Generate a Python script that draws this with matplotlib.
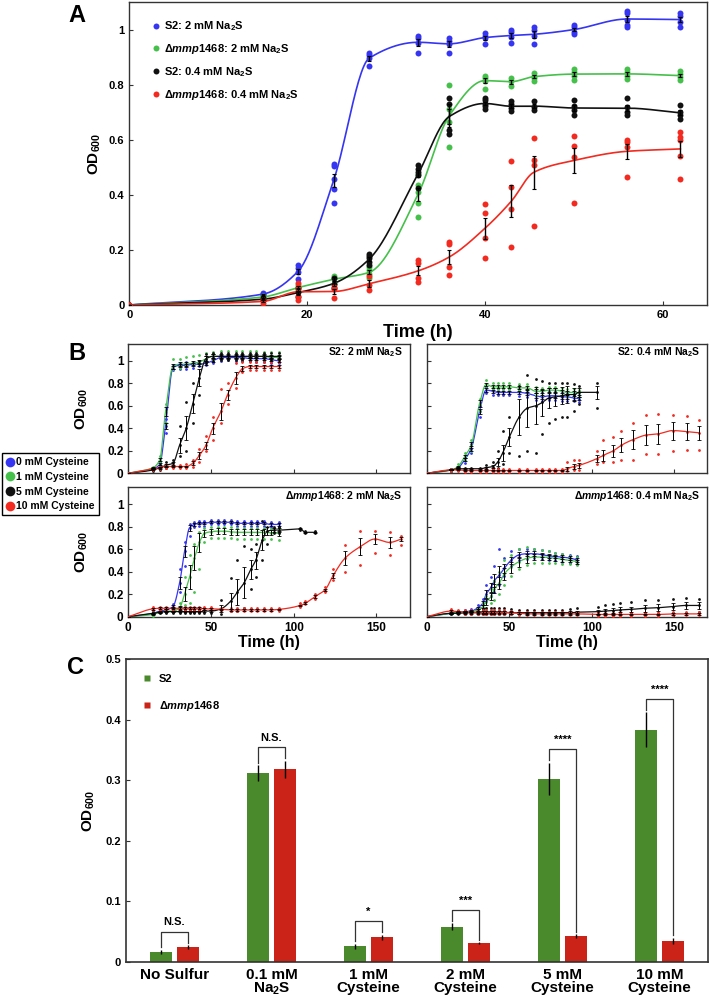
import numpy as np
import matplotlib
matplotlib.use('Agg')
import matplotlib.pyplot as plt
from matplotlib.lines import Line2D
from matplotlib.ticker import FuncFormatter
from matplotlib import font_manager

names = {f.name for f in font_manager.fontManager.ttflist}
FONT = 'DejaVu Sans'
for cand in ('Liberation Sans Narrow', 'Liberation Sans', 'Arial'):
    if cand in names:
        FONT = cand
        break
plt.rcParams['font.family'] = [FONT, 'DejaVu Sans']
plt.rcParams['font.weight'] = 'bold'
plt.rcParams['mathtext.fontset'] = 'custom'
plt.rcParams['mathtext.rm'] = FONT + ':bold'
plt.rcParams['mathtext.bf'] = FONT + ':bold'
plt.rcParams['mathtext.it'] = FONT + ':italic:bold'

BLUE = '#3535f2'
GREEN = '#45c04a'
BLACK = '#111111'
RED = '#f22a1f'
C_GREEN = '#4a8a2c'
C_RED = '#cb2317'
SPINE = '#333333'

# ---------------- panel A: replicate OD600 readings ----------------
a_t = [0, 15, 19, 23, 27, 32.5, 36, 40, 43, 45.5, 50, 56, 62]
a_s2_2mm = [[0, 0, 0], [0.042, 0.036, 0.040], [0.145, 0.133, 0.12, 0.093],
            [0.513, 0.505, 0.456, 0.42, 0.372], [0.915, 0.906, 0.897, 0.867],
            [0.978, 0.97, 0.952, 0.915], [0.97, 0.96, 0.948, 0.915],
            [0.987, 0.978, 0.97, 0.948], [1.0, 0.99, 0.972, 0.952],
            [1.008, 1.0, 0.975, 0.948], [1.017, 1.008, 0.99, 0.984],
            [1.069, 1.06, 1.036, 1.018, 1.008], [1.06, 1.05, 1.027, 1.008]]
a_mut_2mm = [[0, 0, 0], [0.024, 0.033, 0.03], [0.072, 0.064, 0.054],
             [0.105, 0.097, 0.078], [0.139, 0.127, 0.112, 0.097],
             [0.477, 0.435, 0.41, 0.37, 0.32], [0.80, 0.712, 0.664, 0.574],
             [0.833, 0.825, 0.815, 0.785], [0.825, 0.813, 0.795],
             [0.842, 0.833, 0.825, 0.815], [0.857, 0.845, 0.833, 0.818],
             [0.857, 0.845, 0.833, 0.821], [0.849, 0.837, 0.827, 0.818]]
a_s2_04mm = [[0, 0, 0], [0.024, 0.018], [0.06, 0.046, 0.03], [0.097, 0.078, 0.06],
             [0.185, 0.178, 0.169, 0.157, 0.145], [0.507, 0.495, 0.483, 0.471, 0.426],
             [0.751, 0.73, 0.634, 0.622], [0.752, 0.743, 0.73, 0.721, 0.712],
             [0.739, 0.728, 0.716, 0.703], [0.74, 0.719, 0.707],
             [0.745, 0.721, 0.707, 0.688], [0.752, 0.719, 0.7, 0.688],
             [0.727, 0.7, 0.688, 0.676]]
a_mut_04mm = [[0, 0, 0], [0.018, 0.008], [0.081, 0.06, 0.033, 0.018],
              [0.066, 0.057, 0.024], [0.106, 0.072, 0.054],
              [0.163, 0.151, 0.097, 0.085], [0.229, 0.22, 0.139, 0.109],
              [0.366, 0.335, 0.242, 0.169], [0.522, 0.429, 0.35, 0.209],
              [0.608, 0.525, 0.507, 0.286], [0.614, 0.577, 0.537, 0.37],
              [0.60, 0.592, 0.575, 0.465], [0.628, 0.61, 0.598, 0.54, 0.457]]

# ---------------- panel B: mean, lowest and highest replicate ----------------
# S2: 2 mM Na2S
b1_t = [0, 15, 19, 22.5, 27, 31, 35, 39, 43, 47, 51, 56, 60, 65, 69, 73.5, 77.5, 82, 86.5, 91]
b1_blue = [0, 0.04, 0.08, 0.42, 0.94, 0.96, 0.96, 0.97, 0.97, 0.98, 1.0, 1.03, 1.03, 1.03, 1.03, 1.02, 1.02, 1.02, 1.01, 1.0]
b1_blue_lo = [0, 0.03, 0.06, 0.36, 0.92, 0.93, 0.93, 0.94, 0.95, 0.96, 0.98, 1.0, 1.01, 1.0, 1.0, 1.0, 0.99, 0.99, 0.98, 0.98]
b1_blue_hi = [0, 0.05, 0.10, 0.48, 0.96, 0.98, 0.99, 0.99, 1.0, 1.01, 1.03, 1.05, 1.05, 1.05, 1.05, 1.04, 1.04, 1.04, 1.03, 1.03]
b1_green = [0, 0.05, 0.12, 0.55, 0.95, 0.97, 0.97, 0.98, 0.99, 1.02, 1.04, 1.04, 1.04, 1.04, 1.04, 1.04, 1.04, 1.04, 1.03, 1.03]
b1_green_lo = [0, 0.04, 0.09, 0.45, 0.93, 0.94, 0.95, 0.96, 0.97, 0.99, 1.01, 1.02, 1.02, 1.02, 1.02, 1.02, 1.02, 1.01, 1.01, 1.01]
b1_green_hi = [0, 0.06, 0.15, 0.62, 1.02, 1.02, 1.03, 1.04, 1.05, 1.07, 1.08, 1.09, 1.09, 1.09, 1.09, 1.09, 1.09, 1.08, 1.08, 1.08]
b1_black = [0, 0.03, 0.05, 0.07, 0.09, 0.25, 0.40, 0.62, 0.85, 1.02, 1.04, 1.04, 1.04, 1.04, 1.04, 1.04, 1.04, 1.04, 1.04, 1.04]
b1_black_lo = [0, 0.02, 0.03, 0.05, 0.07, 0.15, 0.20, 0.45, 0.70, 0.98, 1.0, 1.01, 1.01, 1.01, 1.01, 1.01, 1.01, 1.01, 1.01, 1.01]
b1_black_hi = [0, 0.04, 0.07, 0.10, 0.12, 0.42, 0.63, 0.80, 1.0, 1.06, 1.07, 1.07, 1.07, 1.07, 1.07, 1.07, 1.07, 1.07, 1.07, 1.07]
b1_red = [0, 0.04, 0.05, 0.06, 0.06, 0.06, 0.06, 0.09, 0.16, 0.25, 0.40, 0.55, 0.70, 0.85, 0.93, 0.95, 0.95, 0.95, 0.95, 0.95]
b1_red_lo = [0, 0.03, 0.04, 0.05, 0.05, 0.05, 0.05, 0.06, 0.10, 0.20, 0.30, 0.45, 0.62, 0.76, 0.90, 0.92, 0.92, 0.92, 0.92, 0.92]
b1_red_hi = [0, 0.05, 0.06, 0.07, 0.07, 0.07, 0.08, 0.12, 0.22, 0.33, 0.50, 0.75, 0.80, 0.98, 0.99, 0.99, 0.99, 0.99, 0.99, 0.99]

# S2: 0.4 mM Na2S
b2_t = [0, 15, 19, 23, 27, 32, 36, 40, 43, 46, 50, 56, 61, 66, 70, 74, 78, 82, 85, 89, 92]
b2_blue = [0, 0.03, 0.05, 0.12, 0.22, 0.55, 0.74, 0.73, 0.72, 0.72, 0.72, 0.72, 0.71, 0.69, 0.68, 0.69, 0.69, 0.68, 0.68, 0.67, 0.665]
b2_blue_lo = [0, 0.02, 0.04, 0.09, 0.18, 0.50, 0.71, 0.70, 0.70, 0.70, 0.70, 0.69, 0.68, 0.65, 0.64, 0.65, 0.65, 0.64, 0.64, 0.64, 0.63]
b2_blue_hi = [0, 0.04, 0.06, 0.15, 0.26, 0.60, 0.77, 0.76, 0.75, 0.75, 0.75, 0.75, 0.74, 0.73, 0.72, 0.73, 0.73, 0.72, 0.71, 0.71, 0.70]
b2_green = [0, 0.03, 0.06, 0.15, 0.25, 0.62, 0.79, 0.77, 0.77, 0.77, 0.77, 0.76, 0.76, 0.73, 0.73, 0.74, 0.74, 0.73, 0.72, 0.72, 0.71]
b2_green_lo = [0, 0.02, 0.05, 0.12, 0.20, 0.55, 0.76, 0.75, 0.75, 0.75, 0.75, 0.74, 0.73, 0.70, 0.70, 0.71, 0.71, 0.70, 0.69, 0.69, 0.68]
b2_green_hi = [0, 0.04, 0.08, 0.18, 0.30, 0.66, 0.83, 0.80, 0.80, 0.80, 0.80, 0.79, 0.79, 0.77, 0.76, 0.77, 0.77, 0.76, 0.75, 0.75, 0.74]
b2_black_t = [0, 15, 19, 23, 27, 32, 36, 40, 43, 46, 50, 56, 61, 66, 70, 74, 78, 82, 85, 89, 92, 103]
b2_black = [0, 0.03, 0.04, 0.04, 0.04, 0.04, 0.05, 0.06, 0.10, 0.18, 0.32, 0.50, 0.58, 0.60, 0.63, 0.67, 0.68, 0.69, 0.70, 0.70, 0.72, 0.72]
b2_black_lo = [0, 0.02, 0.03, 0.03, 0.03, 0.03, 0.03, 0.04, 0.05, 0.08, 0.18, 0.15, 0.20, 0.18, 0.35, 0.45, 0.48, 0.50, 0.50, 0.55, 0.62, 0.58]
b2_black_hi = [0, 0.04, 0.05, 0.05, 0.05, 0.05, 0.07, 0.10, 0.20, 0.38, 0.50, 0.78, 0.87, 0.84, 0.82, 0.80, 0.80, 0.80, 0.80, 0.79, 0.78, 0.80]
b2_red_t = [0, 15, 19, 23, 27, 32, 36, 40, 43, 46, 50, 56, 61, 66, 70, 74, 78, 82, 85, 89, 92,
            103, 107, 113, 118, 125, 133, 140, 149, 158, 165]
b2_red = [0, 0.03, 0.03, 0.025, 0.025, 0.025, 0.025, 0.025, 0.025, 0.025, 0.025, 0.025, 0.025, 0.025, 0.025,
          0.025, 0.025, 0.025, 0.04, 0.06, 0.07, 0.13, 0.16, 0.20, 0.25, 0.30, 0.34, 0.35, 0.38, 0.37, 0.36]
b2_red_lo = [0, 0.02, 0.02, 0.015, 0.015, 0.015, 0.015, 0.015, 0.015, 0.015, 0.015, 0.015, 0.015, 0.015, 0.015,
             0.015, 0.015, 0.015, 0.02, 0.03, 0.03, 0.08, 0.10, 0.10, 0.12, 0.12, 0.17, 0.17, 0.20, 0.21, 0.21]
b2_red_hi = [0, 0.04, 0.04, 0.04, 0.04, 0.04, 0.04, 0.04, 0.04, 0.04, 0.04, 0.04, 0.04, 0.04, 0.04,
             0.04, 0.04, 0.04, 0.10, 0.12, 0.12, 0.20, 0.30, 0.32, 0.38, 0.45, 0.52, 0.53, 0.52, 0.51, 0.47]

# dmmp1468: 2 mM Na2S
b3_t = [0, 15, 19, 23, 27, 31, 34, 37, 40, 43, 46, 50, 54, 58, 62, 66, 70, 74, 78, 82, 86, 91]
b3_blue = [0, 0.03, 0.05, 0.06, 0.09, 0.30, 0.58, 0.79, 0.82, 0.83, 0.83, 0.84, 0.84, 0.84, 0.84, 0.83, 0.83, 0.83, 0.83, 0.83, 0.82, 0.82]
b3_blue_lo = [0, 0.02, 0.04, 0.05, 0.07, 0.22, 0.45, 0.72, 0.80, 0.81, 0.81, 0.82, 0.82, 0.82, 0.82, 0.81, 0.81, 0.81, 0.81, 0.81, 0.80, 0.80]
b3_blue_hi = [0, 0.04, 0.06, 0.07, 0.11, 0.42, 0.66, 0.82, 0.84, 0.85, 0.85, 0.86, 0.86, 0.86, 0.86, 0.85, 0.85, 0.85, 0.85, 0.85, 0.84, 0.84]
b3_green = [0, 0.02, 0.04, 0.05, 0.05, 0.08, 0.20, 0.35, 0.52, 0.66, 0.74, 0.755, 0.76, 0.76, 0.755, 0.75, 0.75, 0.75, 0.75, 0.75, 0.745, 0.74]
b3_green_lo = [0, 0.01, 0.03, 0.04, 0.04, 0.05, 0.10, 0.12, 0.22, 0.42, 0.66, 0.70, 0.70, 0.70, 0.70, 0.69, 0.69, 0.69, 0.69, 0.69, 0.69, 0.68]
b3_green_hi = [0, 0.03, 0.05, 0.06, 0.06, 0.12, 0.35, 0.55, 0.65, 0.75, 0.79, 0.80, 0.80, 0.80, 0.80, 0.79, 0.79, 0.79, 0.79, 0.79, 0.78, 0.78]
b3_black_t = [0, 15, 19, 23, 27, 31, 34, 37, 40, 43, 46, 50, 56, 62, 66, 70, 74, 77, 81, 84, 88, 91, 104, 107, 113]
b3_black = [0, 0.03, 0.04, 0.045, 0.045, 0.045, 0.045, 0.045, 0.045, 0.045, 0.05, 0.05, 0.07, 0.14, 0.22,
            0.30, 0.42, 0.50, 0.68, 0.76, 0.77, 0.77, 0.78, 0.75, 0.75]
b3_black_lo = [0, 0.02, 0.03, 0.03, 0.03, 0.03, 0.03, 0.03, 0.03, 0.03, 0.03, 0.03, 0.02, 0.05, 0.05,
               0.08, 0.25, 0.35, 0.50, 0.65, 0.74, 0.74, 0.77, 0.74, 0.74]
b3_black_hi = [0, 0.04, 0.05, 0.06, 0.06, 0.06, 0.06, 0.06, 0.06, 0.06, 0.07, 0.07, 0.15, 0.34, 0.50,
               0.63, 0.60, 0.65, 0.85, 0.80, 0.80, 0.80, 0.79, 0.76, 0.76]
b3_red_t = [0, 15, 19, 23, 27, 31, 34, 37, 40, 43, 46, 50, 56, 62, 66, 70, 74, 78, 82, 86, 91,
            104, 107, 113, 119, 124, 131, 140, 149, 158, 165]
b3_red = [0, 0.07, 0.075, 0.075, 0.075, 0.075, 0.075, 0.075, 0.075, 0.075, 0.07, 0.07, 0.065, 0.06, 0.06,
          0.06, 0.06, 0.06, 0.06, 0.06, 0.065, 0.10, 0.12, 0.18, 0.24, 0.37, 0.52, 0.62, 0.69, 0.66, 0.69]
b3_red_lo = [0, 0.06, 0.06, 0.06, 0.06, 0.06, 0.06, 0.06, 0.06, 0.06, 0.06, 0.06, 0.05, 0.05, 0.05,
             0.05, 0.05, 0.05, 0.05, 0.05, 0.05, 0.09, 0.11, 0.16, 0.22, 0.33, 0.40, 0.46, 0.57, 0.55, 0.64]
b3_red_hi = [0, 0.085, 0.09, 0.09, 0.09, 0.09, 0.09, 0.09, 0.09, 0.09, 0.085, 0.085, 0.08, 0.075, 0.075,
             0.075, 0.075, 0.075, 0.075, 0.075, 0.08, 0.12, 0.14, 0.20, 0.26, 0.42, 0.64, 0.76, 0.76, 0.75, 0.72]

# dmmp1468: 0.4 mM Na2S
b4_t = [0, 15, 19, 23, 27, 31, 34, 36, 39, 41, 44, 47, 51, 56, 61, 65, 70, 74, 78, 82, 87, 91]
b4_blue = [0, 0.03, 0.04, 0.045, 0.05, 0.08, 0.12, 0.20, 0.26, 0.32, 0.37, 0.43, 0.50, 0.55, 0.56, 0.56, 0.55, 0.54, 0.535, 0.53, 0.52, 0.505]
b4_blue_lo = [0, 0.02, 0.03, 0.035, 0.04, 0.06, 0.08, 0.14, 0.18, 0.22, 0.28, 0.36, 0.45, 0.50, 0.51, 0.52, 0.51, 0.50, 0.50, 0.49, 0.48, 0.47]
b4_blue_hi = [0, 0.04, 0.05, 0.06, 0.065, 0.10, 0.16, 0.28, 0.35, 0.45, 0.60, 0.52, 0.58, 0.60, 0.60, 0.60, 0.59, 0.58, 0.57, 0.56, 0.55, 0.54]
b4_green = [0, 0.03, 0.04, 0.04, 0.045, 0.06, 0.09, 0.13, 0.18, 0.25, 0.30, 0.38, 0.44, 0.49, 0.52, 0.53, 0.53, 0.525, 0.52, 0.51, 0.50, 0.49]
b4_green_lo = [0, 0.02, 0.03, 0.03, 0.035, 0.045, 0.06, 0.08, 0.12, 0.15, 0.20, 0.28, 0.36, 0.42, 0.46, 0.48, 0.48, 0.48, 0.48, 0.47, 0.47, 0.46]
b4_green_hi = [0, 0.04, 0.05, 0.05, 0.055, 0.08, 0.12, 0.18, 0.25, 0.32, 0.40, 0.50, 0.55, 0.60, 0.62, 0.60, 0.59, 0.58, 0.57, 0.56, 0.54, 0.53]
b4_late_t = [0, 15, 19, 23, 27, 31, 34, 36, 39, 41, 44, 47, 51, 56, 61, 65, 70, 74, 78, 82, 87, 91,
             104, 108, 113, 117, 124, 132, 140, 149, 157, 165]
b4_black = [0, 0.03, 0.03, 0.035, 0.035, 0.035, 0.035, 0.035, 0.035, 0.035, 0.035, 0.035, 0.035, 0.035, 0.035, 0.035,
            0.035, 0.035, 0.035, 0.035, 0.035, 0.04, 0.045, 0.05, 0.055, 0.06, 0.065, 0.075, 0.08, 0.09, 0.10, 0.10]
b4_black_lo = [0, 0.02, 0.02, 0.02, 0.02, 0.02, 0.02, 0.02, 0.02, 0.02, 0.02, 0.02, 0.02, 0.02, 0.02, 0.02,
               0.02, 0.02, 0.02, 0.02, 0.02, 0.02, 0.02, 0.02, 0.025, 0.03, 0.03, 0.03, 0.03, 0.03, 0.03, 0.04]
b4_black_hi = [0, 0.04, 0.05, 0.05, 0.05, 0.06, 0.07, 0.08, 0.08, 0.08, 0.08, 0.08, 0.07, 0.06, 0.06, 0.06,
               0.06, 0.06, 0.06, 0.06, 0.07, 0.08, 0.09, 0.10, 0.11, 0.12, 0.13, 0.15, 0.15, 0.16, 0.17, 0.16]
b4_red = [0, 0.05, 0.045, 0.04, 0.04, 0.04, 0.04, 0.04, 0.04, 0.04, 0.04, 0.04, 0.035, 0.03, 0.025, 0.025,
          0.025, 0.025, 0.025, 0.025, 0.025, 0.025, 0.02, 0.02, 0.02, 0.02, 0.02, 0.02, 0.02, 0.025, 0.025, 0.025]
b4_red_lo = [0, 0.03, 0.03, 0.025, 0.025, 0.025, 0.025, 0.025, 0.025, 0.025, 0.025, 0.025, 0.02, 0.015, 0.015, 0.015,
             0.015, 0.015, 0.015, 0.015, 0.015, 0.015, 0.01, 0.01, 0.01, 0.01, 0.01, 0.01, 0.01, 0.015, 0.015, 0.015]
b4_red_hi = [0, 0.07, 0.06, 0.06, 0.06, 0.06, 0.06, 0.06, 0.06, 0.06, 0.06, 0.06, 0.05, 0.045, 0.04, 0.04,
             0.04, 0.04, 0.04, 0.04, 0.04, 0.04, 0.035, 0.035, 0.035, 0.035, 0.035, 0.035, 0.035, 0.04, 0.04, 0.04]

# ---------------- panel C ----------------
c_groups = ['No Sulfur', '0.1 mM\nNa$_2$S', '1 mM\nCysteine', '2 mM\nCysteine', '5 mM\nCysteine', '10 mM\nCysteine']
c_s2 = [0.0165, 0.312, 0.026, 0.058, 0.302, 0.383]
c_s2_err = [0.004, 0.013, 0.004, 0.006, 0.027, 0.029]
c_mut = [0.025, 0.318, 0.041, 0.031, 0.043, 0.035]
c_mut_err = [0.003, 0.014, 0.004, 0.002, 0.003, 0.005]
c_sig = ['N.S.', 'N.S.', '*', '***', '****', '****']


def smooth(x, y, n=400):
    # monotone cubic (PCHIP) curve through the points, for drawing the fitted line
    x = np.asarray(x, float)
    y = np.asarray(y, float)
    h = np.diff(x)
    d = np.diff(y) / h
    m = np.zeros_like(y)
    m[0], m[-1] = d[0], d[-1]
    for k in range(1, len(x) - 1):
        if d[k - 1] * d[k] > 0:
            w1 = 2 * h[k] + h[k - 1]
            w2 = h[k] + 2 * h[k - 1]
            m[k] = (w1 + w2) / (w1 / d[k - 1] + w2 / d[k])
    xs = np.linspace(x[0], x[-1], n)
    i = np.clip(np.searchsorted(x, xs) - 1, 0, len(h) - 1)
    t = (xs - x[i]) / h[i]
    ys = ((2 * t**3 - 3 * t**2 + 1) * y[i] + (t**3 - 2 * t**2 + t) * h[i] * m[i]
          + (-2 * t**3 + 3 * t**2) * y[i + 1] + (t**3 - t**2) * h[i] * m[i + 1])
    return xs, ys


def style_axes(ax, lw=1.0):
    for s in ax.spines.values():
        s.set_color(SPINE)
        s.set_linewidth(lw)
    ax.tick_params(direction='in', length=3, width=0.8, color=SPINE)
    ax.yaxis.set_major_formatter(FuncFormatter(lambda v, p: f'{v:g}'))


fig = plt.figure(figsize=(7.1, 9.99), dpi=100)
W, H = 710.0, 999.0


def box(left, top, right, bottom):
    return [left / W, 1 - bottom / H, (right - left) / W, (bottom - top) / H]


# ===== A =====
axA = fig.add_axes(box(129.3, 2, 707, 305))
seriesA = [(a_s2_2mm, BLUE, 'S2: 2 mM Na$_2$S'),
           (a_mut_2mm, GREEN, r'Δ$\mathit{mmp1468}$: 2 mM Na$_2$S'),
           (a_s2_04mm, BLACK, 'S2: 0.4 mM Na$_2$S'),
           (a_mut_04mm, RED, r'Δ$\mathit{mmp1468}$: 0.4 mM Na$_2$S')]
for reps, col, lab in seriesA:
    means = np.array([np.mean(r) for r in reps])
    sem = np.array([np.std(r) / np.sqrt(len(r)) for r in reps])
    xs, ys = smooth(a_t, means)
    axA.plot(xs, ys, color=col, lw=1.2, zorder=2)
    px = [t for t, r in zip(a_t, reps) for _ in r]
    py = [v for r in reps for v in r]
    axA.plot(px, py, 'o', color=col, ms=4.3, mec='none', zorder=3)
    axA.errorbar(a_t, means, yerr=sem, fmt='none', ecolor='black', elinewidth=1.0,
                 capsize=1.5, capthick=0.8, zorder=4)
axA.set_xlim(0, 65)
axA.set_ylim(0, 1.1)
axA.set_xticks([0, 20, 40, 60])
axA.set_yticks([0, 0.2, 0.4, 0.6, 0.8, 1])
style_axes(axA)
axA.tick_params(labelsize=8)
axA.set_xlabel('Time (h)', fontsize=13, fontweight='bold', labelpad=3)
axA.set_ylabel('OD$_{600}$', fontsize=11, fontweight='bold')
axA.yaxis.set_label_coords(-0.045, 0.5)
handlesA = [Line2D([], [], marker='o', ls='none', color=c, ms=4.3, mec='none') for _, c, _ in seriesA]
axA.legend(handlesA, [s[2] for s in seriesA], loc='upper left', bbox_to_anchor=(0.04, 0.942),
           frameon=False, fontsize=8, labelspacing=0.8, handlelength=0.6, handletextpad=0.4,
           borderaxespad=0, borderpad=0)

# ===== B =====
B_boxes = [box(128.3, 344, 409.5, 473.3), box(426.7, 344, 707.3, 473.3),
           box(128.3, 487.3, 409.5, 616.7), box(426.7, 487.3, 707.3, 616.7)]
B_titles = ['S2: 2 mM Na$_2$S', 'S2: 0.4 mM Na$_2$S',
            r'Δ$\mathit{mmp1468}$: 2 mM Na$_2$S', r'Δ$\mathit{mmp1468}$: 0.4 mM Na$_2$S']
B_series = [
    [(b1_t, b1_blue, b1_blue_lo, b1_blue_hi, BLUE), (b1_t, b1_green, b1_green_lo, b1_green_hi, GREEN),
     (b1_t, b1_black, b1_black_lo, b1_black_hi, BLACK), (b1_t, b1_red, b1_red_lo, b1_red_hi, RED)],
    [(b2_t, b2_blue, b2_blue_lo, b2_blue_hi, BLUE), (b2_t, b2_green, b2_green_lo, b2_green_hi, GREEN),
     (b2_black_t, b2_black, b2_black_lo, b2_black_hi, BLACK), (b2_red_t, b2_red, b2_red_lo, b2_red_hi, RED)],
    [(b3_t, b3_blue, b3_blue_lo, b3_blue_hi, BLUE), (b3_t, b3_green, b3_green_lo, b3_green_hi, GREEN),
     (b3_black_t, b3_black, b3_black_lo, b3_black_hi, BLACK), (b3_red_t, b3_red, b3_red_lo, b3_red_hi, RED)],
    [(b4_t, b4_blue, b4_blue_lo, b4_blue_hi, BLUE), (b4_t, b4_green, b4_green_lo, b4_green_hi, GREEN),
     (b4_late_t, b4_black, b4_black_lo, b4_black_hi, BLACK), (b4_late_t, b4_red, b4_red_lo, b4_red_hi, RED)],
]
for k in range(4):
    ax = fig.add_axes(B_boxes[k])
    for t, m, lo, hi, col in B_series[k]:
        t, m, lo, hi = map(np.asarray, (t, m, lo, hi))
        xs, ys = smooth(t, m)
        ax.plot(xs, ys, color=col, lw=0.9, zorder=2)
        for arr in (lo, m, hi):
            ax.plot(t, arr, 'o', color=col, ms=2.0, mec='none', zorder=3)
        ax.errorbar(t, m, yerr=(hi - lo) / 4, fmt='none', ecolor='black', elinewidth=0.7,
                    capsize=1.2, capthick=0.6, zorder=4)
    ax.set_xlim(0, 170)
    ax.set_ylim(0, 1.15)
    ax.set_xticks([0, 50, 100, 150])
    ax.set_yticks([0, 0.2, 0.4, 0.6, 0.8, 1])
    style_axes(ax)
    ax.tick_params(labelsize=8.5)
    ax.text(0.975, 0.935, B_titles[k], transform=ax.transAxes, ha='right', va='center',
            fontsize=7.5, fontweight='bold')
    if k < 2:
        ax.set_xticklabels([])
    else:
        ax.set_xlabel('Time (h)', fontsize=11.5, fontweight='bold', labelpad=1)
    if k % 2 == 1:
        ax.set_yticklabels([])
    else:
        ax.set_ylabel('OD$_{600}$', fontsize=11, fontweight='bold')
        ax.yaxis.set_label_coords(-0.135, 0.5)

handlesB = [Line2D([], [], marker='o', ls='none', color=c, ms=7, mec='none')
            for c in (BLUE, GREEN, BLACK, RED)]
legB = fig.legend(handlesB, ['0 mM Cysteine', '1 mM Cysteine', '5 mM Cysteine', '10 mM Cysteine'],
                  loc='upper left', bbox_to_anchor=(2 / W, 1 - 453 / H), fontsize=7.5,
                  labelspacing=0.45, handlelength=0.7, handletextpad=0.25, borderpad=0.4,
                  borderaxespad=0, fancybox=False, edgecolor='black', framealpha=1)
legB.get_frame().set_linewidth(1.0)

# ===== C =====
axC = fig.add_axes(box(126, 659, 708, 962))
x = np.arange(len(c_groups))
bw, off = 0.23, 0.14
axC.bar(x - off, c_s2, bw, color=C_GREEN, yerr=c_s2_err, zorder=2,
        error_kw=dict(ecolor='black', elinewidth=1.0, capsize=0))
axC.bar(x + off, c_mut, bw, color=C_RED, yerr=c_mut_err, zorder=2,
        error_kw=dict(ecolor='black', elinewidth=1.0, capsize=0))
for i in range(len(c_groups)):
    top_l = c_s2[i] + c_s2_err[i]
    top_r = c_mut[i] + c_mut_err[i]
    yb = max(top_l, top_r) + 0.022
    axC.plot([x[i] - off, x[i] - off, x[i] + off, x[i] + off],
             [top_l + 0.004, yb, yb, top_r + 0.004], color='#333333', lw=0.9, zorder=3)
    axC.text(x[i], yb + 0.007, c_sig[i], ha='center', va='bottom', fontsize=8, fontweight='bold')
axC.set_xlim(-0.5, len(c_groups) - 0.5)
axC.set_ylim(0, 0.5)
axC.set_yticks([0, 0.1, 0.2, 0.3, 0.4, 0.5])
axC.set_xticks(x)
axC.set_xticklabels(c_groups, fontsize=11, linespacing=0.95)
style_axes(axC, lw=1.2)
axC.tick_params(axis='x', length=0, pad=4)
axC.tick_params(axis='y', labelsize=8)
axC.set_ylabel('OD$_{600}$', fontsize=11, fontweight='bold')
axC.yaxis.set_label_coords(-0.049, 0.5)
handlesC = [Line2D([], [], marker='s', ls='none', color=c, ms=5, mec='none') for c in (C_GREEN, C_RED)]
axC.legend(handlesC, ['S2', r'Δ$\mathit{mmp1468}$'], loc='upper left', bbox_to_anchor=(0.03, 0.95),
           frameon=False, fontsize=8, labelspacing=1.3, handlelength=0.6, handletextpad=0.8,
           borderaxespad=0, borderpad=0)

# panel letters
fig.text(77 / W, 1 - 15 / H, 'A', fontsize=17, fontweight='bold', ha='center', va='center')
fig.text(77 / W, 1 - 354 / H, 'B', fontsize=17, fontweight='bold', ha='center', va='center')
fig.text(75 / W, 1 - 668 / H, 'C', fontsize=17, fontweight='bold', ha='center', va='center')

fig.savefig('out.png', dpi=100)
